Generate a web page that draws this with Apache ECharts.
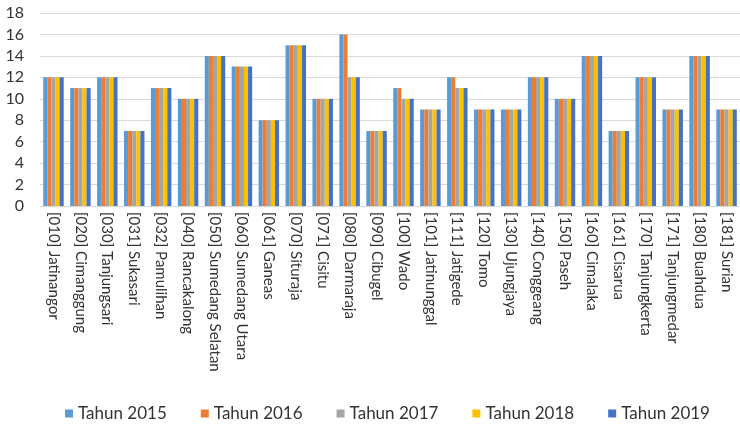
<!DOCTYPE html>
<html>
<head>
<meta charset="utf-8">
<script src="https://cdn.jsdelivr.net/npm/echarts@6/dist/echarts.min.js"></script>
<style>html,body{margin:0;padding:0;background:#fff;}#chart{width:740px;height:430px;}</style>
</head>
<body>
<div id="chart"></div>
<script>
const categories = ["[010] Jatinangor","[020] Cimanggung","[030] Tanjungsari","[031] Sukasari","[032] Pamulihan","[040] Rancakalong","[050] Sumedang Selatan","[060] Sumedang Utara","[061] Ganeas","[070] Situraja","[071] Cisitu","[080] Darmaraja","[090] Cibugel","[100] Wado","[101] Jatinunggal","[111] Jatigede","[120] Tomo","[130] Ujungjaya","[140] Conggeang","[150] Paseh","[160] Cimalaka","[161] Cisarua","[170] Tanjungkerta","[171] Tanjungmedar","[180] Buahdua","[181] Surian"];
const seriesNames = ["Tahun 2015","Tahun 2016","Tahun 2017","Tahun 2018","Tahun 2019"];
const tahun2015 = [12,11,12,7,11,10,14,13,8,15,10,16,7,11,9,12,9,9,12,10,14,7,12,9,14,9];
const tahun2016 = [12,11,12,7,11,10,14,13,8,15,10,16,7,11,9,12,9,9,12,10,14,7,12,9,14,9];
const tahun2017 = [12,11,12,7,11,10,14,13,8,15,10,12,7,10,9,11,9,9,12,10,14,7,12,9,14,9];
const tahun2018 = [12,11,12,7,11,10,14,13,8,15,10,12,7,10,9,11,9,9,12,10,14,7,12,9,14,9];
const tahun2019 = [12,11,12,7,11,10,14,13,8,15,10,12,7,10,9,11,9,9,12,10,14,7,12,9,14,9];
const yTicks = [0,2,4,6,8,10,12,14,16,18];
const colors = ["#5B9BD5","#ED7D31","#A5A5A5","#FFC000","#4472C4"];
const allData = [tahun2015,tahun2016,tahun2017,tahun2018,tahun2019];

const chart = echarts.init(document.getElementById('chart'), null, {renderer:'canvas'});
const font = 'Lato, "Open Sans", sans-serif';
chart.setOption({
  animation:false,
  color: colors,
  grid:{left:40, top:13, width:703, bottom:224, containLabel:false},
  legend:{
    bottom:3, left:60, itemWidth:8, itemHeight:8, itemGap:34,
    icon:'rect',
    textStyle:{fontFamily:font, fontSize:17, color:'#333333'},
    data: seriesNames
  },
  xAxis:{
    type:'category', data:categories,
    axisLine:{lineStyle:{color:'#d9d9d9'}},
    axisTick:{show:false},
    axisLabel:{rotate:-90, interval:0, margin:6, fontFamily:font, fontSize:15, color:'#333333'}
  },
  yAxis:{
    type:'value', min:yTicks[0], max:yTicks[yTicks.length-1], interval:2,
    axisLine:{show:false}, axisTick:{show:false},
    splitLine:{lineStyle:{color:'#d9d9d9'}},
    axisLabel:{fontFamily:font, fontSize:16, color:'#333333', margin:16}
  },
  series: seriesNames.map((n,i)=>({
    name:n, type:'bar', data:allData[i], barGap:'0%', barCategoryGap:'24%'
  }))
});
</script>
</body>
</html>
